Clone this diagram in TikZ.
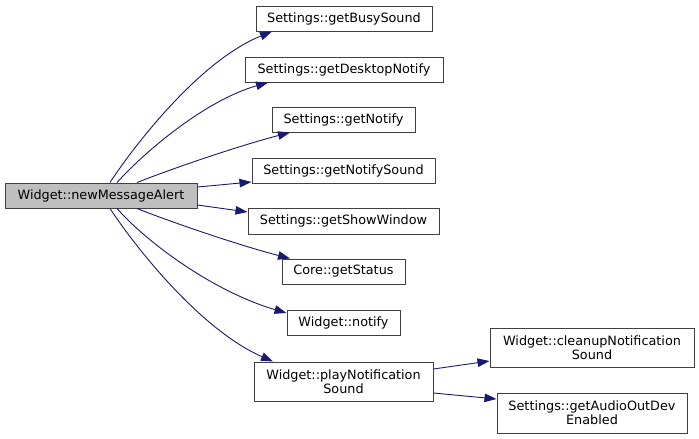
\documentclass[tikz,border=0pt]{standalone}
\usepackage{fontspec}
\setmainfont{DejaVu Sans}
\usetikzlibrary{arrows.meta}
\definecolor{edgeblue}{HTML}{191970}
\definecolor{boxline}{HTML}{404040}
\definecolor{rootfill}{HTML}{BFBFBF}
\begin{document}
\begin{tikzpicture}[x=1pt,y=-1pt,
  fn/.style={draw=boxline,line width=1pt,fill=white,inner sep=0pt,align=center,
    font=\fontsize{12.8}{14.4}\selectfont},
  root/.style={fn,fill=rootfill},
  edge/.style={draw=edgeblue,line width=0.9pt,-{Triangle[length=12pt,width=8.5pt]}}]
\useasboundingbox (0,0) rectangle (699,439);
\fill[white] (0,0) rectangle (699,439);
\node[root,minimum width=192pt,minimum height=25pt] (nma) at (101,195.5) {Widget::newMessageAlert};
\node[fn,minimum width=176pt,minimum height=25pt] (busy) at (344,18.5) {Settings::getBusySound};
\node[fn,minimum width=198pt,minimum height=25pt] (desk) at (344,69.5) {Settings::getDesktopNotify};
\node[fn,minimum width=143pt,minimum height=25pt] (notif) at (343.5,119.5) {Settings::getNotify};
\node[fn,minimum width=183pt,minimum height=25pt] (nsound) at (343.5,170.5) {Settings::getNotifySound};
\node[fn,minimum width=191pt,minimum height=26pt] (show) at (343.5,221) {Settings::getShowWindow};
\node[fn,minimum width=123pt,minimum height=25pt] (status) at (343.5,271.5) {Core::getStatus};
\node[fn,minimum width=113pt,minimum height=25pt] (wnotify) at (343.5,322.5) {Widget::notify};
\node[fn,minimum width=179pt,minimum height=39pt] (play) at (343.5,381.5) {Widget::playNotification\\Sound};
\node[fn,minimum width=204pt,minimum height=39pt] (cleanup) at (592,347.5) {Widget::cleanupNotification\\Sound};
\node[fn,minimum width=190pt,minimum height=40pt] (audio) at (592,413) {Settings::getAudioOutDev\\Enabled};

\draw[edge] ([xshift=9pt]nma.north) .. controls +(25,-38) and +(-72,29) .. ([xshift=-72pt]busy.south);
\draw[edge] ([xshift=16pt]nma.north) .. controls +(28,-31) and +(-63,18) .. ([xshift=-76pt]desk.south);
\draw[edge] ([xshift=36pt]nma.north) .. controls +(38,-15) and +(-50,13) .. ([xshift=-53.5pt]notif.south);
\draw[edge] ([yshift=8.5pt]nma.east) -- ([yshift=-11.5pt]nsound.west);
\draw[edge] ([yshift=-9.5pt]nma.east) -- ([yshift=9pt]show.west);
\draw[edge] ([xshift=36pt]nma.south) .. controls +(38,15) and +(-50,-13) .. ([xshift=-53.5pt]status.north);
\draw[edge] ([xshift=16pt]nma.south) .. controls +(28,32) and +(-75,-22) .. ([yshift=9.5pt]wnotify.west);
\draw[edge] ([xshift=9pt]nma.south) .. controls +(25,38) and +(-73,-32) .. ([xshift=-70.5pt]play.north);
\draw[edge] ([yshift=12.5pt]play.east) -- ([yshift=-13.5pt]cleanup.west);
\draw[edge] ([yshift=-11.5pt]play.east) -- ([yshift=14pt]audio.west);
\end{tikzpicture}
\end{document}
